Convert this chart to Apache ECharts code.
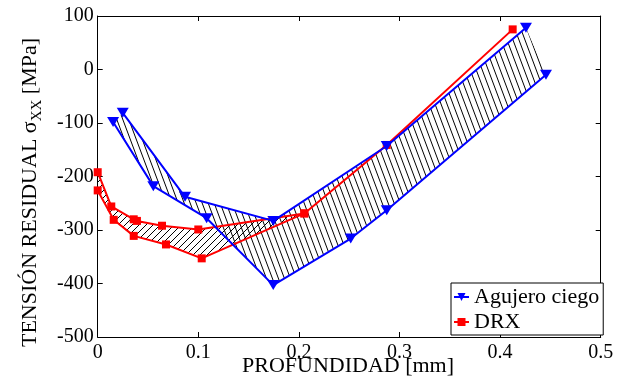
<!DOCTYPE html>
<html>
<head>
<meta charset="utf-8">
<script src="https://cdn.jsdelivr.net/npm/echarts@6/dist/echarts.min.js"></script>
<style>
  html, body { margin: 0; padding: 0; background: #fff; }
  #chart { width: 625px; height: 381px; }
</style>
</head>
<body>
<div id="chart"></div>
<script>
// Agujero ciego: upper and lower bound curves (depth mm, stress MPa)
const blindUpperX = [0.0249, 0.0868, 0.1746, 0.2873, 0.4257];
const blindUpperY = [-81, -238, -283, -143, 78];
const blindLowerX = [0.0153, 0.0553, 0.1083, 0.1745, 0.2515, 0.2873, 0.4456];
const blindLowerY = [-98, -218, -278, -403, -316, -263, -10];

// DRX: upper and lower bound curves
const drxUpperX = [0, 0.0135, 0.0358, 0.039, 0.0639, 0.100, 0.2054, 0.2873, 0.4125];
const drxUpperY = [-192, -256, -280, -283, -292, -299, -269, -141, 75];
const drxLowerX = [0, 0.0159, 0.0358, 0.0679, 0.1034, 0.2054];
const drxLowerY = [-226, -281, -311, -327, -353, -269];

// Axis ranges and tick steps
const xRange = [0, 0.5];
const xStep = 0.1;
const yRange = [-500, 100];
const yStep = 100;

const seriesNames = ['Agujero ciego', 'DRX'];
const xTitle = 'PROFUNDIDAD [mm]';
const yTitleMain = 'TENSIÓN RESIDUAL σ';
const yTitleSub = 'XX';
const yTitleEnd = ' [MPa]';

const SERIF = 'Liberation Serif';
const BLUE = '#0000ff';
const RED = '#ff0000';

function pairs(xs, ys) { return xs.map((x, i) => [x, ys[i]]); }

// Tileable canvas of parallel hatch lines; (w, h) is one step along the line
function hatchPattern(w, h, rising) {
  const c = document.createElement('canvas');
  c.width = w; c.height = h;
  const g = c.getContext('2d');
  g.strokeStyle = '#000';
  g.lineWidth = 1;
  for (const dx of [-w, 0, w]) {
    g.beginPath();
    if (rising) { g.moveTo(dx - w, 2 * h); g.lineTo(dx + 2 * w, -h); }
    else { g.moveTo(dx - w, -h); g.lineTo(dx + 2 * w, 2 * h); }
    g.stroke();
  }
  return { image: c, repeat: 'repeat' };
}

// Closed band: lower curve forward, upper curve backward
function band(upX, upY, loX, loY) {
  const xEnd = loX[loX.length - 1];
  const up = pairs(upX, upY).filter(p => p[0] <= xEnd + 1e-9);
  const lo = pairs(loX, loY);
  const pts = lo.slice();
  const upRev = up.slice().reverse();
  for (const p of upRev) {
    const last = pts[pts.length - 1];
    if (!(last[0] === p[0] && last[1] === p[1])) pts.push(p);
  }
  return pts;
}

function hatchSeries(id, pts, pattern) {
  return {
    type: 'custom', name: id, silent: true, z: 1,
    data: [[0, 0]],
    renderItem: (params, api) => ({
      type: 'polygon',
      shape: { points: pts.map(p => api.coord(p)) },
      style: { fill: pattern, stroke: null }
    })
  };
}

function lineSeries(name, data, color, symbol, size, rotate, z) {
  return {
    type: 'line', name, data,
    symbol, symbolSize: size, symbolRotate: rotate,
    showAllSymbol: true,
    lineStyle: { color, width: 2 },
    itemStyle: { color },
    z
  };
}

const blindBand = band(blindUpperX, blindUpperY, blindLowerX, blindLowerY);
const drxBand = band(drxUpperX, drxUpperY, drxLowerX, drxLowerY);

const chart = echarts.init(document.getElementById('chart'), null, { renderer: 'canvas' });

// Text measurement for the composed y-axis title
const mctx = document.createElement('canvas').getContext('2d');
function textW(str, size) { mctx.font = size + 'px "' + SERIF + '"'; return mctx.measureText(str).width; }
const mainSize = 22, subSize = 15;
const wMain = textW(yTitleMain, mainSize);
const wSub = textW(yTitleSub, subSize);
const wEnd = textW(yTitleEnd, mainSize);
const wTotal = wMain + wSub + wEnd;

const axisLineStyle = { color: '#000', width: 1 };
const tickStyle = { inside: true, length: 5, lineStyle: { color: '#000', width: 1 } };
const labelStyle = { color: '#000', fontFamily: SERIF, fontSize: 20 };

const option = {
  animation: false,
  backgroundColor: '#fff',
  grid: { left: 97.7, right: 24.3, top: 16, bottom: 44, containLabel: false },
  xAxis: [
    {
      type: 'value', min: xRange[0], max: xRange[1], interval: xStep, position: 'bottom',
      axisLine: { show: true, onZero: false, lineStyle: axisLineStyle },
      axisTick: tickStyle,
      axisLabel: Object.assign({ margin: 6 }, labelStyle),
      splitLine: { show: false }
    },
    {
      type: 'value', min: xRange[0], max: xRange[1], interval: xStep, position: 'top',
      axisLine: { show: true, onZero: false, lineStyle: axisLineStyle },
      axisTick: tickStyle, axisLabel: { show: false }, splitLine: { show: false }
    }
  ],
  yAxis: [
    {
      type: 'value', min: yRange[0], max: yRange[1], interval: yStep, position: 'left',
      axisLine: { show: true, onZero: false, lineStyle: axisLineStyle },
      axisTick: tickStyle,
      axisLabel: Object.assign({ margin: 4 }, labelStyle),
      splitLine: { show: false }
    },
    {
      type: 'value', min: yRange[0], max: yRange[1], interval: yStep, position: 'right',
      axisLine: { show: true, onZero: false, lineStyle: axisLineStyle },
      axisTick: tickStyle, axisLabel: { show: false }, splitLine: { show: false }
    }
  ],
  legend: {
    data: seriesNames,
    orient: 'vertical',
    left: 451, top: 283,
    padding: [3, 4, 2, 2],
    itemGap: 3,
    itemWidth: 15, itemHeight: 10,
    backgroundColor: '#fff',
    borderColor: '#000', borderWidth: 1, borderRadius: 0,
    textStyle: { color: '#000', fontFamily: SERIF, fontSize: 22 },
    selectedMode: false
  },
  graphic: [
    {
      type: 'text',
      style: {
        x: 348, y: 366, text: xTitle, align: 'center', verticalAlign: 'middle',
        font: '22px "' + SERIF + '"', fill: '#000'
      }
    },
    {
      type: 'group', x: 30, y: 192.5, rotation: Math.PI / 2,
      children: [
        { type: 'text', x: -wTotal / 2, y: 0,
          style: { text: yTitleMain, font: mainSize + 'px "' + SERIF + '"', fill: '#000', align: 'left', verticalAlign: 'middle' } },
        { type: 'text', x: -wTotal / 2 + wMain, y: 7.5,
          style: { text: yTitleSub, font: subSize + 'px "' + SERIF + '"', fill: '#000', align: 'left', verticalAlign: 'middle' } },
        { type: 'text', x: -wTotal / 2 + wMain + wSub, y: 0,
          style: { text: yTitleEnd, font: mainSize + 'px "' + SERIF + '"', fill: '#000', align: 'left', verticalAlign: 'middle' } }
      ]
    }
  ],
  series: [
    hatchSeries('hatch-blind', blindBand, hatchPattern(6, 16, false)),
    hatchSeries('hatch-drx', drxBand, hatchPattern(7, 7, true)),
    lineSeries(seriesNames[1], pairs(drxUpperX, drxUpperY), RED, 'rect', 8, 0, 3),
    lineSeries(seriesNames[1], pairs(drxLowerX, drxLowerY), RED, 'rect', 8, 0, 3),
    lineSeries(seriesNames[0], pairs(blindUpperX, blindUpperY), BLUE, 'triangle', [12, 10], 180, 4),
    lineSeries(seriesNames[0], pairs(blindLowerX, blindLowerY), BLUE, 'triangle', [12, 10], 180, 4)
  ]
};

chart.setOption(option);
</script>
</body>
</html>
